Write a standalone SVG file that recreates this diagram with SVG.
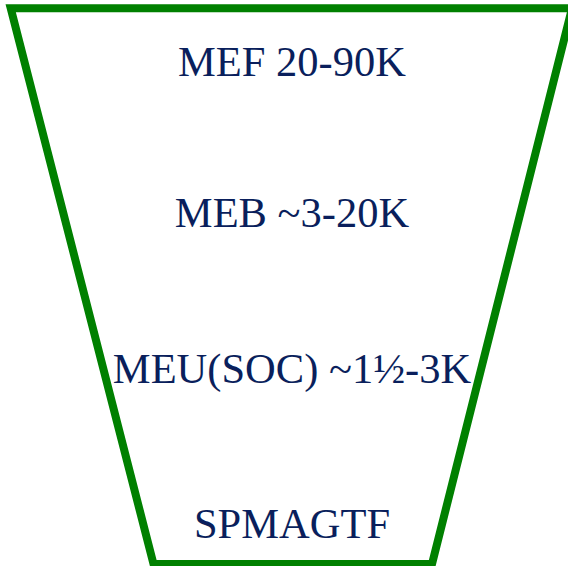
<svg xmlns="http://www.w3.org/2000/svg" width="568" height="566" viewBox="0 0 568 566">
<style>
.lbl{font-family:"Liberation Serif","Times New Roman",serif;font-size:42.5px;fill:#0a1f5c;text-anchor:middle}
</style>
<rect width="568" height="566" fill="#ffffff"/>
<g id="funnel">
<polygon points="10.7,8.3 572,8.3 432,564 153.5,564" fill="none" stroke="#008000" stroke-width="8" stroke-linejoin="miter"/>
</g>
<g id="mef"><text class="lbl" x="292" y="76">MEF 20-90K</text></g>
<g id="meb"><text class="lbl" x="292" y="227">MEB ~3-20K</text></g>
<g id="meu"><text class="lbl" x="292" y="383">MEU(SOC) ~1½-3K</text></g>
<g id="spmagtf"><text class="lbl" x="292" y="538">SPMAGTF</text></g>
</svg>
